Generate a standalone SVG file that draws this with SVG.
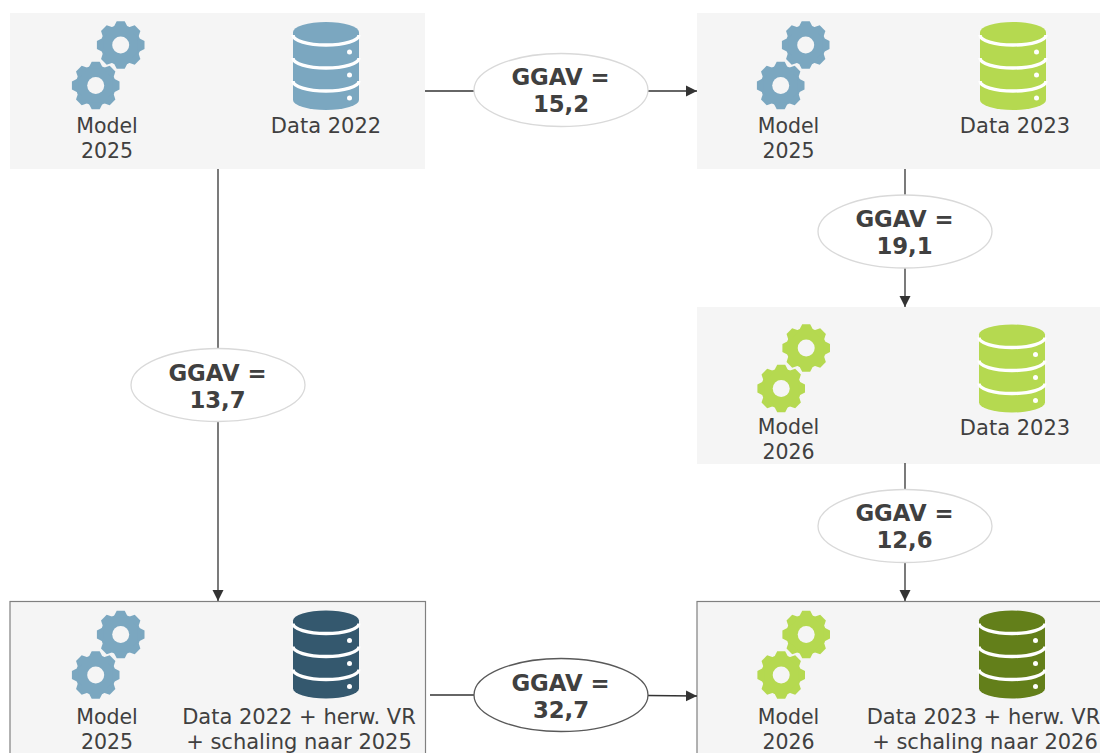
<svg xmlns="http://www.w3.org/2000/svg" width="1100" height="753" viewBox="0 0 1100 753">
<style>
text{font-family:"DejaVu Sans",Verdana,sans-serif;text-anchor:middle}
.lbl{font-size:21px;fill:#404040}
.mod{font-size:20.500px;fill:#404040}
.val{font-size:22.800px;font-weight:bold;fill:#404040}
.box{fill:#f5f5f5}
.boxs{fill:#f5f5f5;stroke:#808080;stroke-width:1.2}
.ell{fill:#fff;stroke:#d9d9d9;stroke-width:1.3}
.ells{fill:#fff;stroke:#595959;stroke-width:1.3}
.c{fill:none;stroke:#333;stroke-width:1.3}
.blue{fill:#7ba7c0}.green{fill:#b5d950}.navy{fill:#34586e}.olive{fill:#637f1a}
</style>
<defs>
<marker id="arr" markerUnits="userSpaceOnUse" markerWidth="12" markerHeight="12" refX="11" refY="6" orient="auto"><path d="M0 0.500L11 6L0 11.500z" fill="#333"/></marker>
<polygon id="tooth" points="17,-7.500 23.800,-4 23.800,4 17,7.500"/>
<g id="gear">
<circle r="20"/>
<use href="#tooth"/><use href="#tooth" transform="rotate(45)"/><use href="#tooth" transform="rotate(90)"/><use href="#tooth" transform="rotate(135)"/>
<use href="#tooth" transform="rotate(180)"/><use href="#tooth" transform="rotate(225)"/><use href="#tooth" transform="rotate(270)"/><use href="#tooth" transform="rotate(315)"/>
<circle r="8.500" fill="#f5f5f5"/>
</g>
<g id="gears">
<use href="#gear" x="120.700" y="45"/>
<use href="#gear" x="95.700" y="85.500"/>
</g>
<g id="db">
<path d="M-33 10V78a33 10 0 0 0 66 0V10a33 10 0 0 0-66 0z"/>
<path d="M-33 13a33 10 0 0 0 66 0M-33 36a33 10 0 0 0 66 0M-33 59a33 10 0 0 0 66 0" fill="none" stroke="#fff" stroke-width="3.400"/>
<circle cx="23.500" cy="30" r="2.500" fill="#fff"/><circle cx="23.500" cy="53" r="2.500" fill="#fff"/><circle cx="23.500" cy="76" r="2.500" fill="#fff"/>
</g>
</defs>
<rect width="1100" height="753" fill="#fff"/>
<g id="n1">
<rect class="box" x="10" y="13" width="415" height="156"/>
<use href="#gears" class="blue"/>
<use href="#db" class="blue" x="326" y="22"/>
<text class="mod" x="107" y="133">Model</text><text class="mod" x="107" y="158">2025</text>
<text class="lbl" x="326" y="133">Data 2022</text>
</g>
<g id="n2">
<rect class="box" x="697" y="13" width="403" height="156"/>
<use href="#gears" class="blue" x="685"/>
<use href="#db" class="green" x="1013" y="22"/>
<text class="mod" x="788.500" y="133">Model</text><text class="mod" x="788.500" y="158">2025</text>
<text class="lbl" x="1015" y="133">Data 2023</text>
</g>
<g id="n3">
<rect class="box" x="697" y="307" width="403" height="157"/>
<use href="#gears" class="green" x="685.500" y="303"/>
<use href="#db" class="green" x="1012" y="324.500"/>
<text class="mod" x="788.500" y="434">Model</text><text class="mod" x="788.500" y="459">2026</text>
<text class="lbl" x="1015" y="435">Data 2023</text>
</g>
<g id="n4">
<rect class="boxs" x="10" y="601.500" width="415.500" height="160"/>
<use href="#gears" class="blue" y="589.500"/>
<use href="#db" class="navy" x="326" y="610.500"/>
<text class="mod" x="107" y="723.500">Model</text><text class="mod" x="107" y="748.500">2025</text>
<text class="lbl" x="299" y="723.500">Data 2022 + herw. VR</text><text class="lbl" x="299" y="748.500">+ schaling naar 2025</text>
</g>
<g id="n5">
<rect class="boxs" x="697" y="601.500" width="410" height="160"/>
<use href="#gears" class="green" x="685.500" y="589.500"/>
<use href="#db" class="olive" x="1012" y="610.500"/>
<text class="mod" x="788.500" y="723.500">Model</text><text class="mod" x="788.500" y="748.500">2026</text>
<text class="lbl" x="983.500" y="723.500">Data 2023 + herw. VR</text><text class="lbl" x="985" y="748.500">+ schaling naar 2026</text>
</g>
<g id="connectors">
<path class="c" d="M425 91H474"/>
<path class="c" d="M648 91H697" marker-end="url(#arr)"/>
<path class="c" d="M905 169V195"/>
<path class="c" d="M905 268V307" marker-end="url(#arr)"/>
<path class="c" d="M905 463V489"/>
<path class="c" d="M905 563V601" marker-end="url(#arr)"/>
<path class="c" d="M218 169V348"/>
<path class="c" d="M218 422V601" marker-end="url(#arr)"/>
<path class="c" d="M430 695H474"/>
<path class="c" d="M648 695.500L697 696" marker-end="url(#arr)"/>
</g>
<g id="e1"><ellipse class="ell" cx="561" cy="90" rx="87" ry="36.500"/><text class="val" x="560.500" y="85">GGAV =</text><text class="val" x="561" y="112">15,2</text></g>
<g id="e2"><ellipse class="ell" cx="905" cy="231.500" rx="87" ry="36.500"/><text class="val" x="904.500" y="227">GGAV =</text><text class="val" x="904.500" y="254">19,1</text></g>
<g id="e3"><ellipse class="ell" cx="218" cy="385" rx="87" ry="36.500"/><text class="val" x="217.500" y="381">GGAV =</text><text class="val" x="217.500" y="408">13,7</text></g>
<g id="e4"><ellipse class="ell" cx="905" cy="526" rx="87" ry="36.500"/><text class="val" x="904.500" y="521">GGAV =</text><text class="val" x="904.500" y="548">12,6</text></g>
<g id="e5"><ellipse class="ells" cx="561" cy="695" rx="87" ry="36.500"/><text class="val" x="560.500" y="691">GGAV =</text><text class="val" x="561" y="718">32,7</text></g>
</svg>
